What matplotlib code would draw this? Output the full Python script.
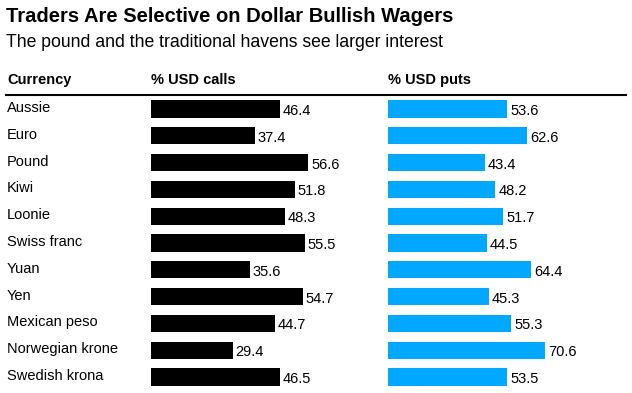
import matplotlib
matplotlib.use("Agg")
import matplotlib.pyplot as plt
from matplotlib.lines import Line2D

currencies = ["Aussie", "Euro", "Pound", "Kiwi", "Loonie", "Swiss franc", "Yuan",
              "Yen", "Mexican peso", "Norwegian krone", "Swedish krona"]
usd_calls = [46.4, 37.4, 56.6, 51.8, 48.3, 55.5, 35.6, 54.7, 44.7, 29.4, 46.5]
usd_puts = [53.6, 62.6, 43.4, 48.2, 51.7, 44.5, 64.4, 45.3, 55.3, 70.6, 53.5]

title = "Traders Are Selective on Dollar Bullish Wagers"
subtitle = "The pound and the traditional havens see larger interest"
headers = ["Currency", "% USD calls", "% USD puts"]

W, H = 632, 393
plt.rcParams['font.family'] = ['Liberation Sans', 'DejaVu Sans']
fig = plt.figure(figsize=(W / 100, H / 100), dpi=100)

def px_axes(x0, y_top, w, h):
    return fig.add_axes([x0 / W, (H - y_top - h) / H, w / W, h / H])

n = len(currencies)
row_top, row_bot = 95.6, 390.4
bar_w = 157

ax1 = px_axes(151, row_top, bar_w, row_bot - row_top)
ax2 = px_axes(388, row_top, bar_w, row_bot - row_top)
ys = list(range(n))
for ax, vals, color in [(ax1, usd_calls, "black"), (ax2, usd_puts, "#00A9FF")]:
    ax.barh(ys, vals, height=0.64, color=color)
    ax.set_xlim(0, max(vals))
    ax.set_ylim(n - 0.5, -0.5)
    ax.axis("off")
    for y, v in zip(ys, vals):
        ax.annotate(f"{v:.1f}", (v, y), xytext=(3, -6), textcoords="offset pixels",
                    ha="left", va="baseline", fontsize=10.5, annotation_clip=False)

# Row labels
for y, c in zip(ys, currencies):
    ax1.annotate(c, (0, y), xycoords=("axes fraction", "data"),
                 xytext=(7 - 151, -3), textcoords="offset pixels",
                 ha="left", va="baseline", fontsize=10.5, annotation_clip=False)

fig.text(6 / W, 1 - 22 / H, title, fontsize=14.5, fontweight="bold", va="baseline", ha="left")
fig.text(6 / W, 1 - 47 / H, subtitle, fontsize=12.7, va="baseline", ha="left")
for x, h in zip([7, 151, 388], headers):
    fig.text(x / W, 1 - 84 / H, h, fontsize=10.5, fontweight="bold", va="baseline", ha="left")
fig.add_artist(Line2D([6 / W, 626 / W], [1 - 94.5 / H, 1 - 94.5 / H], color="black", lw=1.5,
                      transform=fig.transFigure))

fig.savefig("out.png", dpi=100)
